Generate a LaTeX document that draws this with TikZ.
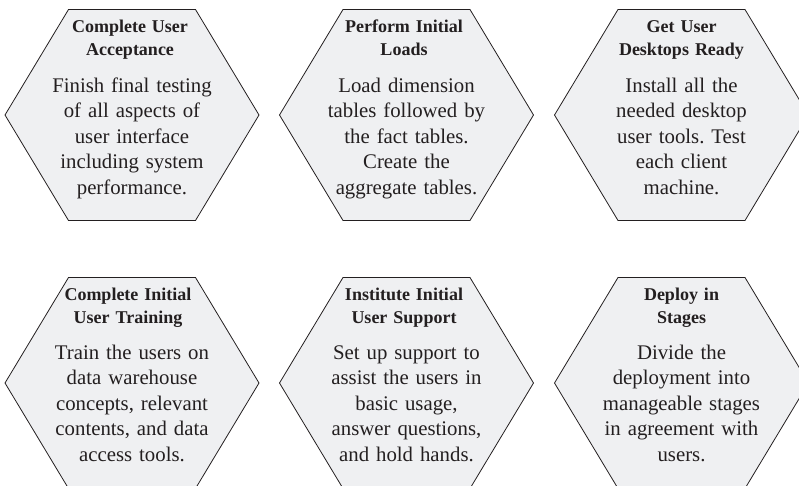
\documentclass[tikz,border=0pt]{standalone}
\usepackage{fontspec}
\setmainfont{Liberation Serif}
\frenchspacing
\definecolor{hexfill}{RGB}{239,240,242}
\definecolor{hexline}{RGB}{35,31,32}
\definecolor{txt}{RGB}{35,31,32}
\tikzset{
  hexa/.style={fill=hexfill, draw=hexline, line width=0.8pt, line join=miter},
  pics/hexagon/.style={code={\path[hexa] (-127,0) -- (-63.5,-105.5) -- (63.5,-105.5) -- (127,0) -- (63.5,105.5) -- (-63.5,105.5) -- cycle;}},
  ttl/.style={font=\bfseries\fontsize{18}{23}\selectfont, text width=240pt, align=center, anchor=base, inner sep=0pt, text=txt},
  bdy/.style={font=\fontsize{20.8}{25.5}\selectfont, text width=240pt, align=center, anchor=base, inner sep=0pt, text=txt}
}
\begin{document}
\frenchspacing
\begin{tikzpicture}[x=1pt, y=-1pt]
\useasboundingbox (0,0) rectangle (799,485);
\clip (0,0) rectangle (799,485);
\coordinate (c1) at (132,115);
\coordinate (c2) at (406.5,115);
\coordinate (c3) at (681.5,115);
\coordinate (c4) at (132,383);
\coordinate (c5) at (406.5,383);
\coordinate (c6) at (681.5,383);
\foreach \c in {c1,c2,c3,c4,c5,c6} {\pic at (\c) {hexagon};}
% top row
\node[ttl] (t1) at (130,32) {Complete User\\Acceptance};
\node[bdy] (b1) at (132,92) {Finish final testing\\of all aspects of\\user interface\\including system\\performance.};
\node[ttl] (t2) at (404,32) {Perform Initial\\Loads};
\node[bdy] (b2) at (406.5,92) {Load dimension\\tables followed by\\the fact tables.\\Create the\\aggregate tables.};
\node[ttl] (t3) at (681.5,32) {Get User\\Desktops Ready};
\node[bdy] (b3) at (681.5,92) {Install all the\\needed desktop\\user tools. Test\\each client\\machine.};
% bottom row
\node[ttl] (t4) at (128,300) {Complete Initial\\User Training};
\node[bdy] (b4) at (132,359) {Train the users on\\data warehouse\\concepts, relevant\\contents, and data\\access tools.};
\node[ttl] (t5) at (404,300) {Institute Initial\\User Support};
\node[bdy] (b5) at (406.5,359) {Set up support to\\assist the users in\\basic usage,\\answer questions,\\and hold hands.};
\node[ttl] (t6) at (681.5,300) {Deploy in\\Stages};
\node[bdy] (b6) at (681.5,359) {Divide the\\deployment into\\manageable stages\\in agreement with\\users.};
\end{tikzpicture}
\end{document}
